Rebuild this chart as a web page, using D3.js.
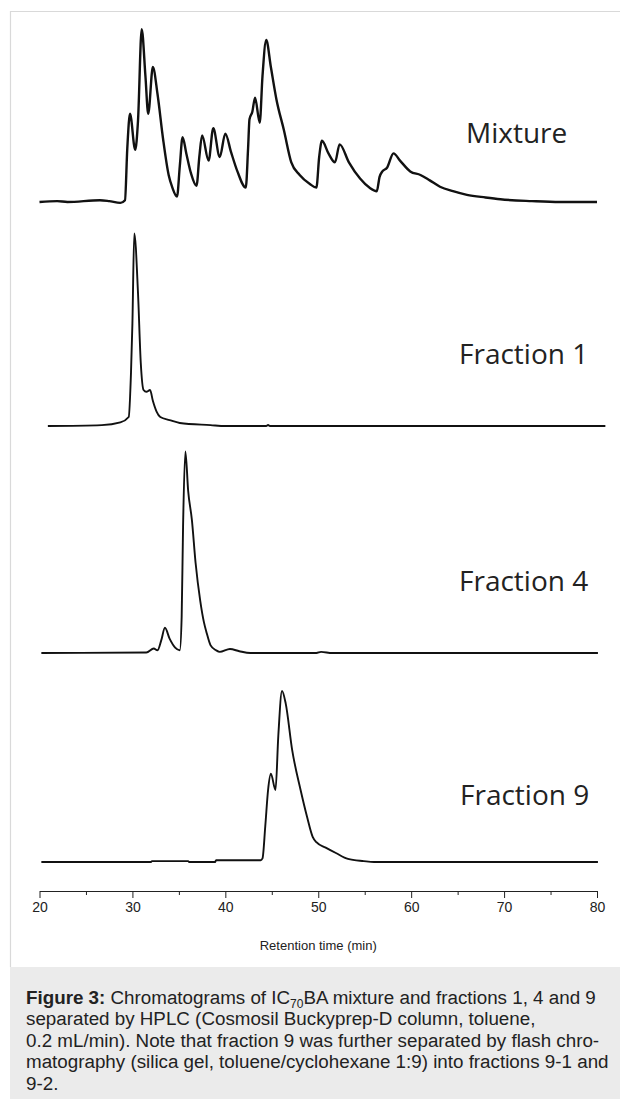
<!DOCTYPE html>
<html><head><meta charset="utf-8">
<script src="https://cdn.jsdelivr.net/npm/d3@7"></script>
<style>
html,body{margin:0;padding:0;background:#fff;}
svg{display:block;}
</style></head>
<body>
<svg id="chart" width="620" height="1099"></svg>
<script>
// ---- data (retention time in min, relative signal) ----
const mixture = [
 [20,0],[21.9,0.5],[23,0],[26.5,1],[27.5,0.5],[28.7,-0.5],[29.2,1],[29.45,30],[29.74,49],[30.3,29],[30.6,45],
 [31.0,96],[31.4,70],[31.7,49],[32.2,75],[32.7,60],[33.3,35],[33.9,15],[34.3,8],[34.8,3],[35.1,20],[35.4,36],
 [35.8,27],[36.3,16],[36.9,9],[37.2,25],[37.5,37],[38.2,23],[38.7,41],[39.4,25],[40.0,38],[40.6,28],[41.3,17],
 [42.2,8],[42.45,30],[42.6,46],[42.9,50],[43.2,58],[43.7,44],[44.0,70],[44.4,90],[44.9,75],[45.5,57],[46.3,40],
 [47.1,22],[48.0,15],[49.1,10],[49.8,8],[50.1,25],[50.4,34],[51.1,27],[51.8,22],[52.3,32],[53.3,22],[54.5,13],
 [55.5,8],[56.3,6],[56.6,14],[56.9,17],[57.4,19],[58.1,27],[58.8,23],[59.9,17],[61,15],[62,12],[63.1,8.5],
 [64.5,6],[66,4],[68,2.5],[69.6,1.5],[73,0.5],[76,0],[80,0]
];
const fraction1 = [
 [20.9,0],[26.7,0.5],[28.7,2],[29.6,5],[29.85,30],[30.0,57],[30.2,107],[30.6,74],[30.9,35],[31.2,20],[31.5,19],
 [31.9,20],[32.2,14],[32.6,8],[33.0,5],[34.0,3.3],[35.1,1.7],[38.4,0.5],[40,0],[44.4,0],[44.6,0.6],[44.8,0],[80.9,0]
];
const fraction4 = [
 [20.2,0],[31.5,0.3],[32.3,2.5],[32.7,1.5],[33.1,7],[33.5,14],[34.0,8],[34.6,3],[35.1,1.5],[35.3,20],[35.45,70],
 [35.7,112],[36.0,90],[36.4,74],[36.8,50],[37.3,29],[37.7,17],[38.0,11],[38.4,4.4],[39.0,1.5],[39.4,0.6],
 [40.5,2.2],[41.5,1],[42.7,0],[49.8,0],[50.3,0.6],[51.5,0],[80.1,0]
];
const fraction9 = [
 [20.2,0],[32,0],[32.1,0.5],[36,0.5],[36.1,0],[38.9,0],[39.0,1],[43.8,1],[44.0,2],[44.3,20],[44.6,40],[44.9,49],
 [45.4,40],[45.7,70],[46.1,95],[46.5,88],[47.2,62],[48.1,40],[48.8,25],[49.4,14],[49.8,11],[50.8,8],[51.9,5],
 [53.2,1.7],[54.9,0.5],[56,0],[80.1,0]
];
const traceNames = ["Mixture","Fraction 1","Fraction 4","Fraction 9"];
const traces = [mixture, fraction1, fraction4, fraction9];
const xTicks = [20,30,40,50,60,70,80];
const xMinorTicks = [25,35,45,55,65,75];
const xTitle = "Retention time (min)";
const captionLines = [
 [["b","Figure 3:"],["n"," Chromatograms of IC"],["s","70"],["n","BA mixture and fractions 1, 4 and 9"]],
 [["n","separated by HPLC (Cosmosil Buckyprep-D column, toluene,"]],
 [["n","0.2 mL/min). Note that fraction 9 was further separated by flash chro-"]],
 [["n","matography (silica gel, toluene/cyclohexane 1:9) into fractions 9-1 and"]],
 [["n","9-2."]]
];

// ---- layout ----
const svg = d3.select("#chart");
const baselines = [202, 426, 653, 862];
const labelY = [143, 364, 591, 805];
const labelX = [466, 459, 459, 460];
const x = d3.scaleLinear().domain([20,80]).range([39.5,597]);
const axisY = 891;

// frame
svg.append("line").attr("x1",10).attr("x2",620).attr("y1",11.5).attr("y2",11.5).attr("stroke","#d9d9d9").attr("stroke-width",1.2);
svg.append("line").attr("x1",10.5).attr("x2",10.5).attr("y1",11).attr("y2",967).attr("stroke","#d9d9d9").attr("stroke-width",1.2);

traces.forEach((data,i)=>{
  const y = d3.scaleLinear().domain([0,100]).range([baselines[i], baselines[i]-180]);
  const line = d3.line().x(d=>x(d[0])).y(d=>y(d[1])).curve(d3.curveMonotoneX);
  svg.append("path").datum(data).attr("d",line).attr("fill","none")
    .attr("stroke","#111").attr("stroke-width", i===0?2.4:1.9).attr("stroke-linejoin","round");
  svg.append("text").attr("x",labelX[i]).attr("y",labelY[i]).text(traceNames[i])
    .attr("font-family","'Open Sans', sans-serif").attr("font-size",28).attr("fill","#222");
});

// axis
const axis = d3.axisBottom(x).tickValues(xTicks).tickSize(7).tickSizeOuter(0).tickPadding(4);
const g = svg.append("g").attr("transform",`translate(0,${axisY})`).call(axis);
g.select(".domain").attr("stroke","#222");
g.selectAll(".tick line").attr("stroke","#222");
g.selectAll(".tick text").attr("font-family","'Liberation Sans', Arial, sans-serif").attr("font-size",14).attr("fill","#222");
const minor = d3.axisBottom(x).tickValues(xMinorTicks).tickSize(4).tickSizeOuter(0).tickFormat("");
const gm = svg.append("g").attr("transform",`translate(0,${axisY})`).call(minor);
gm.select(".domain").remove();
gm.selectAll(".tick line").attr("stroke","#222");
svg.append("text").attr("x",x(50)).attr("y",950).attr("text-anchor","middle").text(xTitle)
  .attr("font-family","'Liberation Sans', Arial, sans-serif").attr("font-size",13).attr("fill","#222");

// caption
svg.append("rect").attr("x",10).attr("y",967).attr("width",610).attr("height",132).attr("fill","#ebebeb");
const cap = svg.append("text").attr("font-family","'Liberation Sans', Arial, sans-serif").attr("font-size",18.8).attr("fill","#222");
captionLines.forEach((parts,li)=>{
  parts.forEach((p,pi)=>{
    const t = cap.append("tspan").text(p[1]);
    if(pi===0) t.attr("x",26).attr("y",1004+li*21.4);
    if(p[0]==="b") t.attr("font-weight","bold");
    if(p[0]==="s") t.attr("font-size",12).attr("dy",3.5);
    if(pi>0 && parts[pi-1][0]==="s") t.attr("dy",-3.5);
  });
});
</script>
</body></html>
